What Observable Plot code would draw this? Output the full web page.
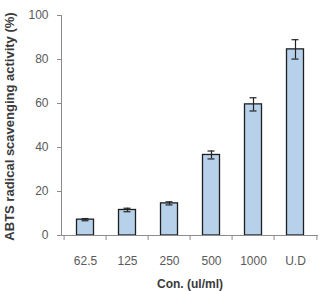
<!DOCTYPE html>
<html>
<head>
<meta charset="utf-8">
<script src="https://cdn.jsdelivr.net/npm/d3@7"></script>
<script src="https://cdn.jsdelivr.net/npm/@observablehq/plot@0.6"></script>
<style>
  html, body { margin: 0; padding: 0; background: #fff; }
  svg { display: block; }
</style>
</head>
<body>
<div id="chart"></div>
<script>
const categories = ["62.5", "125", "250", "500", "1000", "U.D"];
const values = [7.2, 11.6, 14.6, 36.6, 59.6, 84.6];
const errors = [0.5, 0.8, 0.7, 1.8, 3.0, 4.4];
const yTicks = [0, 20, 40, 60, 80, 100];
const xTitle = "Con. (ul/ml)";
const yTitle = "ABTS radical scavenging activity (%)";

const data = categories.map((c, i) => ({c, v: values[i], e: errors[i]}));
const bw = (322 - 61 - 4) / categories.length;

const chart = Plot.plot({
  width: 322,
  height: 291,
  marginLeft: 61,
  marginRight: 4,
  marginTop: 15,
  marginBottom: 56,
  style: {fontFamily: "Liberation Sans, Arial, sans-serif", fontSize: "12px", color: "#595959", background: "#fff"},
  x: {domain: categories, padding: 0, label: null},
  y: {domain: [0, 100], label: null},
  marks: [
    Plot.barY(data, {x: "c", y: "v", fill: "#b7d1ea", stroke: "#1e1e1e", strokeWidth: 1.3, insetLeft: 12.5, insetRight: 12.5}),
    Plot.ruleX(data, {x: "c", y1: d => d.v - d.e, y2: d => d.v + d.e, stroke: "#222", strokeWidth: 1.2}),
    Plot.tickY(data, {x: "c", y: d => d.v - d.e, stroke: "#222", strokeWidth: 1.2, insetLeft: 17.5, insetRight: 17.5}),
    Plot.tickY(data, {x: "c", y: d => d.v + d.e, stroke: "#222", strokeWidth: 1.2, insetLeft: 17.5, insetRight: 17.5}),
    Plot.axisY({ticks: yTicks, tickSize: 4, tickPadding: 9, stroke: "#8c8c8c", fill: "#595959", fontSize: 12, label: null}),
    Plot.frame({anchor: "left", stroke: "#8c8c8c"}),
    Plot.ruleY([0], {stroke: "#8c8c8c"}),
    Plot.ruleX(categories, {x: d => d, dx: -bw / 2, y1: 0, y2: -2.3, stroke: "#8c8c8c"}),
    Plot.ruleX([categories[categories.length - 1]], {x: d => d, dx: bw / 2, y1: 0, y2: -2.3, stroke: "#8c8c8c"}),
    Plot.axisX({tickSize: 0, tickPadding: 21, fill: "#595959", fontSize: 12, label: null}),
    Plot.text([xTitle], {frameAnchor: "bottom", dy: 49, lineAnchor: "middle", textAnchor: "middle", fontWeight: "bold", fontSize: 12, fill: "#3a3a3a"}),
    Plot.text([yTitle], {frameAnchor: "left", dx: -52, dy: 1, rotate: -90, textAnchor: "middle", lineAnchor: "middle", fontWeight: "bold", fontSize: 13, fill: "#3a3a3a"})
  ]
});
document.getElementById("chart").appendChild(chart);
</script>
</body>
</html>
